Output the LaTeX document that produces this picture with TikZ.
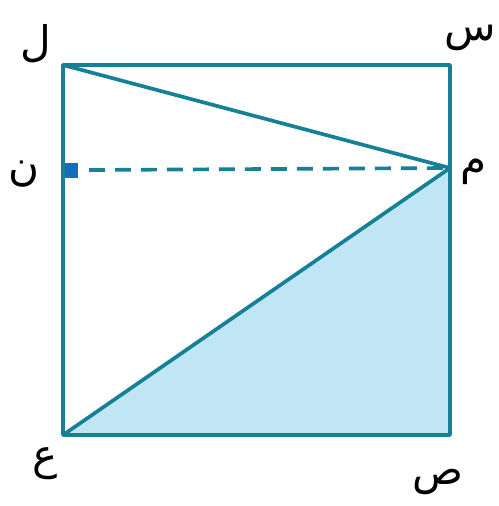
\documentclass[tikz,border=0pt]{standalone}
\usepackage{fontspec}
\newfontfamily\arabicfont[Script=Arabic]{DejaVu Sans}
\TeXXeTstate=1
\usepackage{xcolor}
\usetikzlibrary{positioning, calc}
\definecolor{edgeblue}{RGB}{22,128,150}
\definecolor{shadeblue}{RGB}{192,230,245}
\definecolor{markblue}{RGB}{20,110,190}

\begin{document}
\begin{tikzpicture}[x=0.02cm, y=-0.02cm,
    side/.style={draw=edgeblue, line width=2.1pt, line join=round},
    lbl/.style={font=\arabicfont\fontsize{24}{24}\selectfont, text=black, inner sep=0pt}
]
\useasboundingbox (0,0) rectangle (499,506);

% --- corners of the square ---
\coordinate (cl) at (63,65);
\coordinate (cs) at (450,65);
\coordinate (csad) at (450,435);
\coordinate (cain) at (63,435);
\coordinate (cm) at (450,168);
\coordinate (cn) at (63,170);

% --- shaded triangle ---
\fill[shadeblue] (cain) -- (csad) -- (cm) -- cycle;

% --- right angle mark at n ---
\fill[markblue] ($(cn)+(0,-7)$) rectangle ($(cn)+(15,8)$);

% --- square and segments ---
\draw[side] (cl) -- (cs) -- (csad) -- (cain) -- cycle;
\draw[side] (cl) -- (cm) -- (cain);
\draw[side, dash pattern=on 0.32cm off 0.2cm] ($(cn)+(26,0)$) -- (cm);

% --- labels ---
\node[lbl] (tl) at (36,44) {\beginR ل\endR};
\node[lbl] (ts) at (470,38) {\beginR س\endR};
\node[lbl] (tm) at (474,172) {\beginR م\endR};
\node[lbl] (tn) at (24,174) {\beginR ن\endR};
\node[lbl] (tain) at (45,464) {\beginR ع\endR};
\node[lbl] (tsad) at (438,482) {\beginR ص\endR};

\end{tikzpicture}
\end{document}
